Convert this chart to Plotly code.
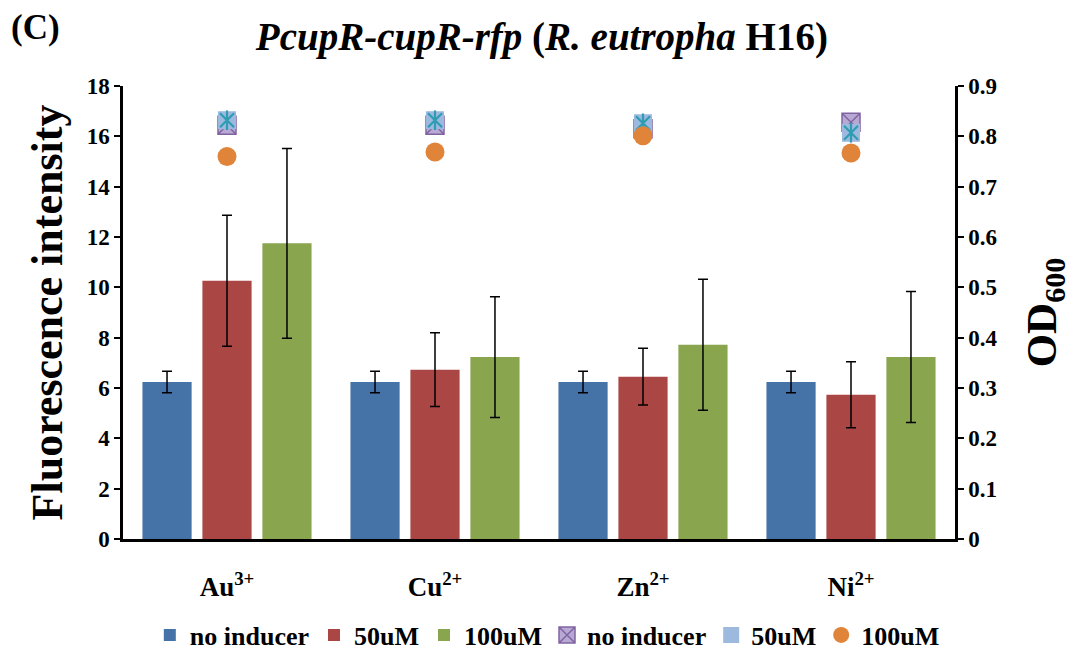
import plotly.graph_objects as go

# Metal ions tested (x categories) and their tick labels
ions = ["Au", "Cu", "Zn", "Ni"]
tick_labels = ["Au<sup>3+</sup>", "Cu<sup>2+</sup>", "Zn<sup>2+</sup>", "Ni<sup>2+</sup>"]

# Fluorescence intensity (left axis), mean and error
fl_none = [6.24, 6.24, 6.24, 6.24]
fl_none_err = [0.43, 0.43, 0.43, 0.43]
fl_50 = [10.26, 6.73, 6.45, 5.73]
fl_50_err = [2.60, 1.47, 1.13, 1.31]
fl_100 = [11.75, 7.23, 7.72, 7.23]
fl_100_err = [3.77, 2.40, 2.60, 2.60]

# OD600 (right axis)
od_none = [0.822, 0.822, 0.815, 0.828]
od_50 = [0.832, 0.832, 0.826, 0.807]
od_100 = [0.760, 0.769, 0.801, 0.767]

FONT = "Liberation Serif"

fig = go.Figure()

err_style = dict(type="data", color="black", thickness=1.5, width=5, visible=True)

for name, vals, errs, color in [
    ("no inducer", fl_none, fl_none_err, "#4572A7"),
    ("50uM", fl_50, fl_50_err, "#AA4643"),
    ("100uM", fl_100, fl_100_err, "#89A54E"),
]:
    fig.add_trace(go.Bar(
        x=ions, y=vals, name=name,
        marker=dict(color=color, line=dict(width=0)),
        error_y=dict(array=errs, **err_style),
        yaxis="y",
    ))

# OD600 markers
fig.add_trace(go.Scatter(
    x=ions, y=od_none, name="no inducer", mode="markers", yaxis="y2",
    marker=dict(symbol="square-x", size=18, color="#B7A9D3",
                line=dict(color="#8064A2", width=1.5)),
))
fig.add_trace(go.Scatter(
    x=ions, y=od_50, name="50uM", mode="markers", yaxis="y2",
    legendgroup="od50",
    marker=dict(symbol="square", size=18, color="#9DB9DE",
                line=dict(color="#9DB9DE", width=0)),
))
# six-armed star drawn on top of the 50uM squares
for sym in ["x-thin-open", "line-ns-open"]:
    fig.add_trace(go.Scatter(
        x=ions, y=od_50, name="50uM", mode="markers", yaxis="y2",
        legendgroup="od50", showlegend=False,
        marker=dict(symbol=sym, size=14, color="#2E9DB3",
                    line=dict(color="#2E9DB3", width=2.2)),
    ))
fig.add_trace(go.Scatter(
    x=ions, y=od_100, name="100uM", mode="markers", yaxis="y2",
    marker=dict(symbol="circle", size=19, color="#E0843A",
                line=dict(width=0)),
))

tick_font = dict(family=FONT, size=23, color="black", weight="bold")

fig.update_layout(
    width=1073, height=652,
    margin=dict(l=123, r=118, t=86, b=113, autoexpand=False),
    paper_bgcolor="white", plot_bgcolor="white",
    barmode="group", bargap=0.135, bargroupgap=0.18,
    font=dict(family=FONT, color="black"),
    title=dict(
        text="<i>PcupR-cupR-rfp</i> (<i>R. eutropha</i> H16)",
        x=0.505, xanchor="center", y=0.945, yanchor="middle",
        font=dict(family=FONT, size=39, color="black", weight="bold"),
    ),
    xaxis=dict(
        tickvals=ions, ticktext=tick_labels, automargin=False,
        showline=True, linecolor="black", linewidth=3,
        ticks="", tickfont=dict(family=FONT, size=27, color="black", weight="bold"),
        ticklabelstandoff=22, showgrid=False, zeroline=False,
    ),
    yaxis=dict(
        range=[0, 18], dtick=2, showgrid=False, zeroline=False, automargin=False,
        showline=True, linecolor="black", linewidth=2.5,
        ticks="outside", ticklen=6, tickwidth=2, tickcolor="black",
        tickfont=tick_font,
        title=dict(text="Fluorescence intensity", standoff=11,
                   font=dict(family=FONT, size=44, color="black", weight="bold")),
    ),
    yaxis2=dict(
        range=[0, 0.9], dtick=0.1, overlaying="y", side="right", automargin=False,
        showgrid=False, zeroline=False,
        showline=True, linecolor="black", linewidth=2.5,
        ticks="outside", ticklen=6, tickwidth=2, tickcolor="black",
        tickfont=tick_font, tickformat=".1~f",
        title=dict(text="OD<sub>600</sub>", standoff=30,
                   font=dict(family=FONT, size=43, color="black", weight="bold")),
    ),
    legend=dict(
        orientation="h", x=0.51, xanchor="center",
        yref="container", y=0.026, yanchor="middle",
        font=dict(family=FONT, size=26, color="black", weight="bold"),
        itemwidth=30, tracegroupgap=0,
    ),
    annotations=[dict(
        text="(C)", xref="paper", yref="paper", x=-0.137, y=1.13,
        xanchor="left", yanchor="middle", showarrow=False,
        font=dict(family=FONT, size=35, color="black", weight="bold"),
    )],
)

fig.write_html("out.html")
